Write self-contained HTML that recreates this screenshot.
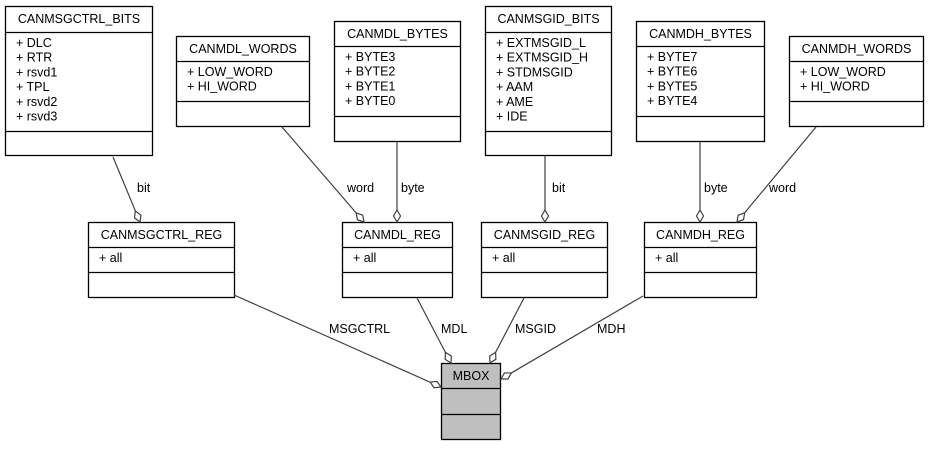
<!DOCTYPE html>
<html><head><meta charset="utf-8"><style>
html,body{margin:0;padding:0;background:#fff;}
svg text{font-family:"Liberation Sans",sans-serif;font-size:12.5px;fill:#000;}
</style></head><body>
<svg id="s" width="928" height="445" xmlns="http://www.w3.org/2000/svg">
</svg>
<script>
var s=document.getElementById('s'),NS='http://www.w3.org/2000/svg';
function el(t,a,txt){var e=document.createElementNS(NS,t);for(var k in a)e.setAttribute(k,a[k]);if(txt)e.textContent=txt;s.appendChild(e);return e;}
function line(x1,y1,x2,y2){el('line',{x1:x1,y1:y1,x2:x2,y2:y2,stroke:'#404040','stroke-width':1.2});}
function diamond(x1,y1,x2,y2){
 var dx=x2-x1,dy=y2-y1,L=Math.hypot(dx,dy);dx/=L;dy/=L;var px=-dy,py=dx,len=12,w=3.5;
 var p=[[x2,y2],[x2-dx*len/2+px*w,y2-dy*len/2+py*w],[x2-dx*len,y2-dy*len],[x2-dx*len/2-px*w,y2-dy*len/2-py*w]];
 line(x1,y1,x2-dx*len,y2-dy*len);
 el('polygon',{points:p.map(function(q){return q.join(',')}).join(' '),fill:'#fff',stroke:'#404040','stroke-width':1.2});
}
function box(x,y,w,h,l1,l2,title,attrs,fill){
 el('rect',{x:x+.5,y:y+.5,width:w,height:h,fill:fill||'#fff',stroke:'#000','stroke-width':1.3});
 el('line',{x1:x,y1:l1+.5,x2:x+w,y2:l1+.5,stroke:'#000','stroke-width':1.3});
 el('line',{x1:x,y1:l2+.5,x2:x+w,y2:l2+.5,stroke:'#000','stroke-width':1.3});
 el('text',{x:x+w/2+.5,y:y+17,'text-anchor':'middle'},title);
 attrs.forEach(function(a,i){el('text',{x:x+11,y:l1+15+i*14.7},a);});
}
box(5,6,147,149,32,131,'CANMSGCTRL_BITS',['+ DLC','+ RTR','+ rsvd1','+ TPL','+ rsvd2','+ rsvd3']);
box(176,36,133,90,61,101,'CANMDL_WORDS',['+ LOW_WORD','+ HI_WORD']);
box(334,21,126,120,46,116,'CANMDL_BYTES',['+ BYTE3','+ BYTE2','+ BYTE1','+ BYTE0']);
box(485,6,126,149,32,131,'CANMSGID_BITS',['+ EXTMSGID_L','+ EXTMSGID_H','+ STDMSGID','+ AAM','+ AME','+ IDE']);
box(636,21,128,120,46,116,'CANMDH_BYTES',['+ BYTE7','+ BYTE6','+ BYTE5','+ BYTE4']);
box(789,36,134,90,61,101,'CANMDH_WORDS',['+ LOW_WORD','+ HI_WORD']);
box(88,222,146,75,247,272,'CANMSGCTRL_REG',['+ all']);
box(342,222,110,75,247,272,'CANMDL_REG',['+ all']);
box(481,222,126,75,247,272,'CANMSGID_REG',['+ all']);
box(644,222,112,75,247,272,'CANMDH_REG',['+ all']);
box(441,363,59,76,388,414,'MBOX',[],'#bfbfbf');
diamond(113,157,140,222);
diamond(282,127,364,222);
diamond(397,142,397,222);
diamond(545,156,545,222);
diamond(700,142,700,222);
diamond(816,127,737,222);
diamond(234,295,441,387);
diamond(417,298,451,363);
diamond(524,298,490,363);
diamond(643,296,501,379);
function lab(x,y,t){el('text',{x:x,y:y},t);}
lab(137,192,'bit');lab(347,192,'word');lab(401,192,'byte');lab(552,192,'bit');lab(704,192,'byte');lab(769,192,'word');
lab(329,333,'MSGCTRL');lab(441,333,'MDL');lab(515,333,'MSGID');lab(597,333,'MDH');
</script>
</body></html>
